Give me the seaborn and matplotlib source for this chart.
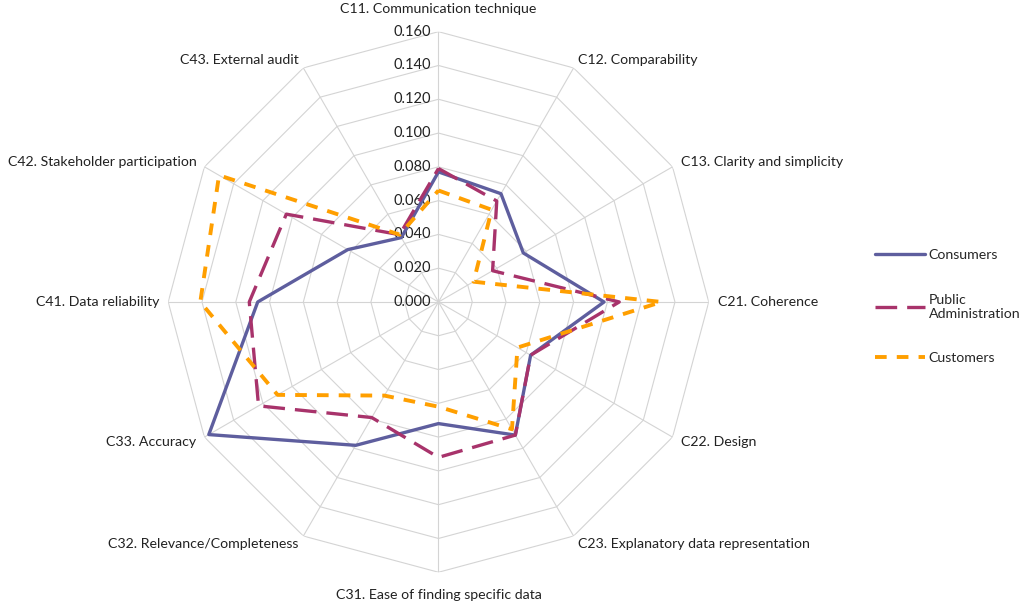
import numpy as np
import pandas as pd
import matplotlib
matplotlib.use("Agg")
import matplotlib.pyplot as plt
import matplotlib.transforms as mtrans
import seaborn as sns

categories = ["C11. Communication technique", "C12. Comparability",
              "C13. Clarity and simplicity", "C21. Coherence", "C22. Design",
              "C23. Explanatory data representation", "C31. Ease of finding specific data",
              "C32. Relevance/Completeness", "C33. Accuracy", "C41. Data reliability",
              "C42. Stakeholder participation", "C43. External audit"]
consumers = [0.077, 0.074, 0.058, 0.098, 0.063, 0.091, 0.072, 0.098, 0.157, 0.107, 0.062, 0.044]
public_admin = [0.079, 0.069, 0.037, 0.107, 0.063, 0.091, 0.092, 0.079, 0.123, 0.112, 0.104, 0.046]
customers = [0.066, 0.063, 0.024, 0.132, 0.054, 0.087, 0.062, 0.064, 0.110, 0.141, 0.150, 0.046]
ticks = [0.0, 0.02, 0.04, 0.06, 0.08, 0.10, 0.12, 0.14, 0.16]

sns.set_style("white")
plt.rcParams["font.family"] = ["Lato", "DejaVu Sans"]
fs = 10.2

n = len(categories)
theta = np.linspace(0, 2 * np.pi, n, endpoint=False)
theta_closed = np.append(theta, 2 * np.pi)

fig = plt.figure(figsize=(10.24, 6.06), dpi=100)
ax = fig.add_axes([0.1642, 0.0557, 0.528, 0.892], projection="polar")
ax.set_theta_zero_location("N")
ax.set_theta_direction(-1)
ax.set_ylim(0, 0.16)
ax.grid(False)
ax.spines["polar"].set_visible(False)
ax.set_xticks([])
ax.set_yticks([])
ax.patch.set_alpha(0)

# polygon grid + spokes
grid_col = "#d4d4d4"
for lv in ticks[1:]:
    ax.plot(theta_closed, [lv] * (n + 1), color=grid_col, lw=0.8, zorder=1)
for t in theta:
    ax.plot([t, t], [0, 0.16], color=grid_col, lw=0.8, zorder=1)

# radial tick labels on the top spoke
off = mtrans.offset_copy(ax.transData, fig=fig, x=-7, y=0, units="dots")
for lv in ticks:
    ax.text(0, lv, f"{lv:.3f}", transform=off, ha="right", va="center",
            fontsize=fs + 0.3, color="#222222")

# category labels
for t, lab in zip(theta, categories):
    deg = np.degrees(t)
    if deg == 0 or deg == 180:
        ax.text(t, 0.1735, lab, ha="center", va="center", fontsize=fs, color="#222222")
    elif deg < 180:
        ax.text(t, 0.1655, lab, ha="left", va="center", fontsize=fs, color="#222222")
    else:
        ax.text(t, 0.1655, lab, ha="right", va="center", fontsize=fs, color="#222222")

series = [("Consumers", consumers, "#5e5e9e", 2.4, "-"),
          ("Public\nAdministration", public_admin, "#a8336b", 2.4, (0, (6.5, 3))),
          ("Customers", customers, "#ff9f00", 2.8, (0, (3, 2.6)))]
for name, vals, col, lw, ls in series:
    df = pd.DataFrame({"theta": theta_closed, "value": vals + vals[:1]})
    sns.lineplot(data=df, x="theta", y="value", sort=False, estimator=None,
                 color=col, lw=lw, linestyle=ls, label=name, ax=ax, zorder=3)

handles, labels = ax.get_legend_handles_labels()
if ax.get_legend() is not None:
    ax.get_legend().remove()
ax.set_xlabel("")
ax.set_ylabel("")
fig.legend(handles, labels, loc="center left", bbox_to_anchor=(0.842, 0.494),
           frameon=False, fontsize=fs, handlelength=3.5, handletextpad=0.3,
           labelspacing=2.3)

fig.savefig("out.png", dpi=100)
